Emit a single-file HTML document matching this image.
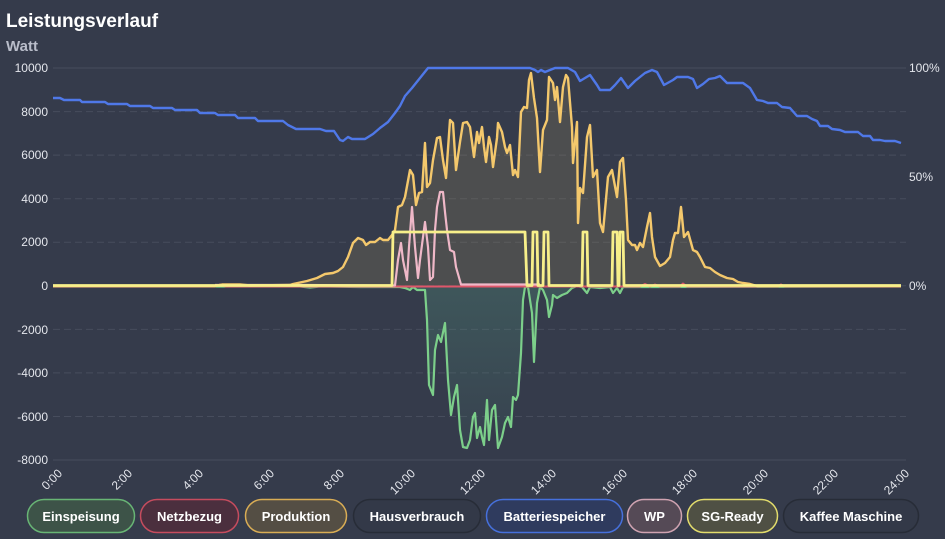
<!DOCTYPE html>
<html><head><meta charset="utf-8"><style>
html,body{margin:0;padding:0;background:#353b4b;width:945px;height:539px;overflow:hidden}
svg{display:block}
text{font-family:"Liberation Sans",sans-serif}
</style></head><body>
<svg width="945" height="539" viewBox="0 0 945 539" xmlns="http://www.w3.org/2000/svg">
<defs>
<linearGradient id="gfill" x1="0" y1="286" x2="0" y2="450" gradientUnits="userSpaceOnUse">
<stop offset="0" stop-color="#4f8a78" stop-opacity="0.35"/>
<stop offset="1" stop-color="#4f8a78" stop-opacity="0.08"/>
</linearGradient>
</defs>
<rect width="945" height="539" fill="#353b4b"/>
<text x="6" y="27" font-size="19" font-weight="bold" fill="#ffffff">Leistungsverlauf</text>
<text x="6" y="51" font-size="15" font-weight="bold" fill="#b9bdca">Watt</text>

<g stroke="#474d5d" stroke-width="1">
<line x1="53" y1="68" x2="906" y2="68"/>
<line x1="53" y1="460" x2="906" y2="460"/>
<g stroke-dasharray="7 4">
<line x1="53" y1="111.6" x2="906" y2="111.6"/>
<line x1="53" y1="155.1" x2="906" y2="155.1"/>
<line x1="53" y1="198.7" x2="906" y2="198.7"/>
<line x1="53" y1="242.2" x2="906" y2="242.2"/>
<line x1="53" y1="285.8" x2="906" y2="285.8"/>
<line x1="53" y1="329.4" x2="906" y2="329.4"/>
<line x1="53" y1="372.9" x2="906" y2="372.9"/>
<line x1="53" y1="416.5" x2="906" y2="416.5"/>
</g>
</g>

<g font-size="12" fill="#e4e6ec" text-anchor="end">
<text x="48" y="72">10000</text>
<text x="48" y="116">8000</text>
<text x="48" y="159">6000</text>
<text x="48" y="203">4000</text>
<text x="48" y="246">2000</text>
<text x="48" y="290">0</text>
<text x="48" y="334">-2000</text>
<text x="48" y="377">-4000</text>
<text x="48" y="421">-6000</text>
<text x="48" y="464">-8000</text>
</g>
<g font-size="12" fill="#e4e6ec">
<text x="909" y="72">100%</text>
<text x="909" y="181">50%</text>
<text x="909" y="290">0%</text>
</g>

<g font-size="12" fill="#e4e6ec" text-anchor="end">
<text x="63" y="474" transform="rotate(-45 63 474)">0:00</text>
<text x="133" y="474" transform="rotate(-45 133 474)">2:00</text>
<text x="204" y="474" transform="rotate(-45 204 474)">4:00</text>
<text x="275" y="474" transform="rotate(-45 275 474)">6:00</text>
<text x="345" y="474" transform="rotate(-45 345 474)">8:00</text>
<text x="416" y="474" transform="rotate(-45 416 474)">10:00</text>
<text x="486" y="474" transform="rotate(-45 486 474)">12:00</text>
<text x="557" y="474" transform="rotate(-45 557 474)">14:00</text>
<text x="628" y="474" transform="rotate(-45 628 474)">16:00</text>
<text x="698" y="474" transform="rotate(-45 698 474)">18:00</text>
<text x="769" y="474" transform="rotate(-45 769 474)">20:00</text>
<text x="839" y="474" transform="rotate(-45 839 474)">22:00</text>
<text x="910" y="474" transform="rotate(-45 910 474)">24:00</text>
</g>

<path fill="rgba(165,145,95,0.22)" d="M53,286 L215,286 L222,284.5 L240,284.5 L250,285.5 L290,285 L293,284 L307,281 L317,278 L325,274 L333,273 L338,271 L343,267 L348,257 L353,243 L358,238 L363,240 L366,245 L370,242 L375,242 L380,238 L383,240 L388,240 L392,235 L395,230 L398,207 L402,205 L405,197 L410,170 L413,175 L416,205 L419,193 L422,192 L425,143 L427,187 L430,183 L433,160 L437,138 L440,137 L443,160 L446,178 L450,120 L453,123 L456,170 L460,142 L463,123 L467,122 L470,127 L474,157 L477,132 L479,143 L482,127 L484,147 L486,162 L489,137 L491,145 L493,167 L497,138 L498,123 L502,132 L505,147 L507,153 L510,145 L513,175 L515,170 L518,177 L521,112 L524,107 L527,108 L529,80 L531,73 L534,98 L537,118 L540,172 L543,130 L547,120 L549,77 L553,83 L555,100 L557,87 L560,122 L563,87 L566,75 L568,78 L572,127 L573,163 L577,122 L578,223 L580,188 L583,193 L587,137 L590,125 L593,177 L597,170 L600,223 L603,232 L608,177 L612,170 L617,197 L620,162 L623,158 L626,200 L628,240 L632,245 L635,245 L637,250 L640,243 L643,247 L647,227 L650,213 L652,237 L655,257 L660,266 L665,263 L670,257 L673,240 L675,233 L678,233 L681,207 L684,237 L688,232 L693,250 L697,252 L700,257 L705,267 L710,268 L715,272 L720,275 L727,278 L733,279 L738,282 L743,283 L750,284 L757,286 L901,286 Z"/>

<path fill="url(#gfill)" d="M53,286 L400,287 L405,288 L410,290 L413,287 L417,290 L422,290 L425,290 L427,320 L429,385 L433,395 L435,350 L438,335 L441,342 L445,323 L448,380 L451,415 L454,397 L457,385 L460,430 L463,447 L467,448 L470,440 L473,417 L475,413 L477,438 L480,427 L482,437 L484,445 L487,400 L489,440 L492,410 L495,405 L498,448 L502,437 L505,423 L508,417 L511,427 L513,397 L516,400 L518,395 L521,353 L523,300 L525,287 L528,287 L532,313 L534,362 L537,303 L540,287 L543,290 L547,300 L549,317 L552,305 L553,295 L557,298 L562,295 L567,293 L572,288 L577,286 L901,286 Z"/>

<path fill="none" stroke="#7ccf8a" stroke-width="2.2" stroke-linejoin="round" d="M53,286.5 L300,286.5 L310,287.5 L320,286.5 L360,287 L380,287 L393,287 L400,287 L405,288 L410,290 L413,287 L417,290 L422,290 L425,290 L427,320 L429,385 L433,395 L435,350 L438,335 L441,342 L445,323 L448,380 L451,415 L454,397 L457,385 L460,430 L463,447 L467,448 L470,440 L473,417 L475,413 L477,438 L480,427 L482,437 L484,445 L487,400 L489,440 L492,410 L495,405 L498,448 L502,437 L505,423 L508,417 L511,427 L513,397 L516,400 L518,395 L521,353 L523,300 L525,287 L528,287 L532,313 L534,362 L537,303 L540,287 L543,290 L547,300 L549,317 L552,305 L553,295 L557,298 L562,295 L567,293 L572,288 L577,286 L582,287 L587,293 L590,287 L600,288 L610,287 L613,293 L617,288 L620,293 L623,287 L640,287 L660,287 L901,286.5"/>

<path fill="none" stroke="#e0566a" stroke-width="2" stroke-linejoin="round" d="M53,286.5 L215,286.5 L220,284.5 L226,286.5 L395,286.5 L460,286.5 L640,286.5 L645,284 L650,286.5 L655,284.5 L660,286.5 L680,286.5 L683,283.5 L687,286.5 L700,286.5 L740,286.5 L778,286.5 L781,284.5 L785,286.5 L901,286.5"/>

<path fill="none" stroke="#efb8c8" stroke-width="2.2" stroke-linejoin="round" d="M215,285 L300,285 L395,285.5 L398,260 L401,243 L403,260 L407,280 L409,247 L412,207 L415,247 L418,278 L420,260 L425,222 L428,247 L430,280 L433,277 L435,230 L437,207 L440,192 L443,192 L445,212 L447,230 L450,250 L454,252 L456,267 L461,284.5 L540,284.5"/>

<path fill="none" stroke="#f4c86c" stroke-width="2.4" stroke-linejoin="round" d="M53,286 L215,286 L222,284.5 L240,284.5 L250,285.5 L290,285 L293,284 L307,281 L317,278 L325,274 L333,273 L338,271 L343,267 L348,257 L353,243 L358,238 L363,240 L366,245 L370,242 L375,242 L380,238 L383,240 L388,240 L392,235 L395,230 L398,207 L402,205 L405,197 L410,170 L413,175 L416,205 L419,193 L422,192 L425,143 L427,187 L430,183 L433,160 L437,138 L440,137 L443,160 L446,178 L450,120 L453,123 L456,170 L460,142 L463,123 L467,122 L470,127 L474,157 L477,132 L479,143 L482,127 L484,147 L486,162 L489,137 L491,145 L493,167 L497,138 L498,123 L502,132 L505,147 L507,153 L510,145 L513,175 L515,170 L518,177 L521,112 L524,107 L527,108 L529,80 L531,73 L534,98 L537,118 L540,172 L543,130 L547,120 L549,77 L553,83 L555,100 L557,87 L560,122 L563,87 L566,75 L568,78 L572,127 L573,163 L577,122 L578,223 L580,188 L583,193 L587,137 L590,125 L593,177 L597,170 L600,223 L603,232 L608,177 L612,170 L617,197 L620,162 L623,158 L626,200 L628,240 L632,245 L635,245 L637,250 L640,243 L643,247 L647,227 L650,213 L652,237 L655,257 L660,266 L665,263 L670,257 L673,240 L675,233 L678,233 L681,207 L684,237 L688,232 L693,250 L697,252 L700,257 L705,267 L710,268 L715,272 L720,275 L727,278 L733,279 L738,282 L743,283 L750,284 L757,286 L901,286"/>

<path fill="none" stroke="#f7ef8a" stroke-width="2.8" stroke-linejoin="round" d="M53,285.5 L392,285.5 L393,232 L525,232 L527,285.5 L532,285.5 L533,232 L537,232 L538,285.5 L543,285.5 L544,232 L548,232 L549,285.5 L582,285.5 L583,232 L587,232 L588,285.5 L612,285.5 L613,232 L617,232 L618,285.5 L619,285.5 L620,232 L623,232 L624,285.5 L901,285.5"/>

<path fill="none" stroke="#4f78e8" stroke-width="2.4" stroke-linejoin="round" d="M53,98 L60,98 L64,100 L80,100 L82,102 L105,102 L108,104 L127,104 L130,106 L150,106 L153,108 L172,108 L175,110 L197,110 L200,113 L215,113 L218,115 L235,115 L238,118 L255,118 L258,121 L283,121 L288,125 L296,129 L320,129 L326,131 L334,131 L340,140 L343,141 L348,137 L352,139 L365,139 L373,134 L380,128 L388,122 L395,113 L400,106 L405,96 L412,88 L420,78 L428,68 L523,68 L530,68 L535,70 L538,72 L541,70 L545,72 L550,70 L555,68 L568,68 L575,72 L580,81 L585,78 L590,75 L597,85 L600,90 L610,90 L615,85 L621,78 L628,88 L635,81 L645,73 L652,70 L657,72 L664,85 L673,80 L677,77 L688,77 L693,79 L697,88 L703,84 L709,79 L715,78 L720,76 L727,83 L743,83 L750,88 L757,100 L763,101 L768,103 L777,103 L782,107 L790,108 L797,116 L807,116 L812,119 L817,121 L820,126 L828,126 L832,129 L840,130 L845,132 L858,132 L863,136 L870,136 L873,140 L880,140 L885,141 L895,141 L901,143"/>

<g stroke-width="1.5" font-size="13" font-weight="bold" fill="#ffffff" text-anchor="middle">
<rect x="27.5" y="499.5" width="107" height="33" rx="16.5" fill="#3d5348" stroke="#68b575"/>
<text x="81" y="521" stroke="none" fill="#fff">Einspeisung</text>
<rect x="140.5" y="499.5" width="98" height="33" rx="16.5" fill="#4b2f3e" stroke="#c64c5e"/>
<text x="189.5" y="521" stroke="none" fill="#fff">Netzbezug</text>
<rect x="245.5" y="499.5" width="101" height="33" rx="16.5" fill="#544e44" stroke="#d9ad55"/>
<text x="296" y="521" stroke="none" fill="#fff">Produktion</text>
<rect x="353.5" y="499.5" width="127" height="33" rx="16.5" fill="#333948" stroke="#272c37"/>
<text x="417" y="521" stroke="none" fill="#fff">Hausverbrauch</text>
<rect x="486.5" y="499.5" width="136" height="33" rx="16.5" fill="#2f3b5e" stroke="#4670dc"/>
<text x="554.5" y="521" stroke="none" fill="#fff">Batteriespeicher</text>
<rect x="627.5" y="499.5" width="54" height="33" rx="16.5" fill="#554a56" stroke="#cfa3b1"/>
<text x="654.5" y="521" stroke="none" fill="#fff">WP</text>
<rect x="687.5" y="499.5" width="90" height="33" rx="16.5" fill="#4f5044" stroke="#e2dc6c"/>
<text x="732.5" y="521" stroke="none" fill="#fff">SG-Ready</text>
<rect x="783.5" y="499.5" width="135" height="33" rx="16.5" fill="#333948" stroke="#272c37"/>
<text x="851" y="521" stroke="none" fill="#fff">Kaffee Maschine</text>
</g>
</svg>
</body></html>
